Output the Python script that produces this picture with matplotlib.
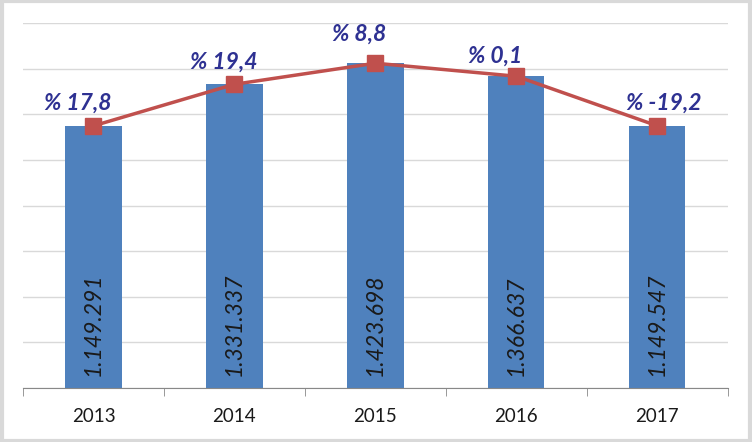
import matplotlib.pyplot as plt
import numpy as np

years = ["2013", "2014", "2015", "2016", "2017"]
values = [1149291, 1331337, 1423698, 1366637, 1149547]
changes = ["% 17,8", "% 19,4", "% 8,8", "% 0,1", "% -19,2"]

plt.rcParams['font.family'] = ['Lato', 'DejaVu Sans']

fig = plt.figure(figsize=(7.52, 4.42), dpi=100)
ax = fig.add_axes([0.0306, 0.122, 0.937, 0.826])

x = np.arange(len(years))
ax.bar(x, values, width=0.4, color="#4F81BD", zorder=2)
ax.plot(x, values, color="#C0504D", lw=2.5, marker="s", ms=12,
        mfc="#C0504D", mec="#C0504D", zorder=3)

# bar value labels, rotated inside the bars
for xi, v in zip(x, values):
    s = f"{v:,}".replace(",", ".")
    ax.text(xi, 52000, s, rotation=90, ha="center", va="bottom",
            fontsize=16.5, style="italic", color="#1a1a1a", zorder=4)

# percent labels above the markers
offsets = [(-11, 9), (-8, 8), (-12, 13), (-15, 7), (5, 9)]
for xi, v, c, off in zip(x, values, changes, offsets):
    ax.annotate(c, (xi, v), xytext=off, textcoords="offset points",
                ha="center", va="bottom", fontsize=16.5, fontweight="bold",
                style="italic", color="#2E3192", zorder=5)

ax.set_xlim(-0.5, len(years) - 0.5)
ax.set_ylim(0, 1600000)
ax.set_yticks(np.arange(0, 1600001, 200000))
ax.yaxis.grid(True, color="#D9D9D9", lw=1, zorder=0)
ax.tick_params(axis="y", left=False, labelleft=False)

ax.set_xticks(x)
ax.set_xticklabels(years, fontsize=13.5, color="#1a1a1a")
ax.set_xticks(np.arange(-0.5, len(years)), minor=True)
ax.tick_params(axis="x", which="major", length=0, pad=14)
ax.tick_params(axis="x", which="minor", length=6, color="#888888")

for side in ["top", "left", "right"]:
    ax.spines[side].set_visible(False)
ax.spines["bottom"].set_color("#888888")

# outer chart border
fig.patches.append(plt.Rectangle((0.002, 0.003), 0.996, 0.994, transform=fig.transFigure,
                                 fill=False, edgecolor="#D9D9D9", lw=3))

fig.savefig("out.png", dpi=100)
